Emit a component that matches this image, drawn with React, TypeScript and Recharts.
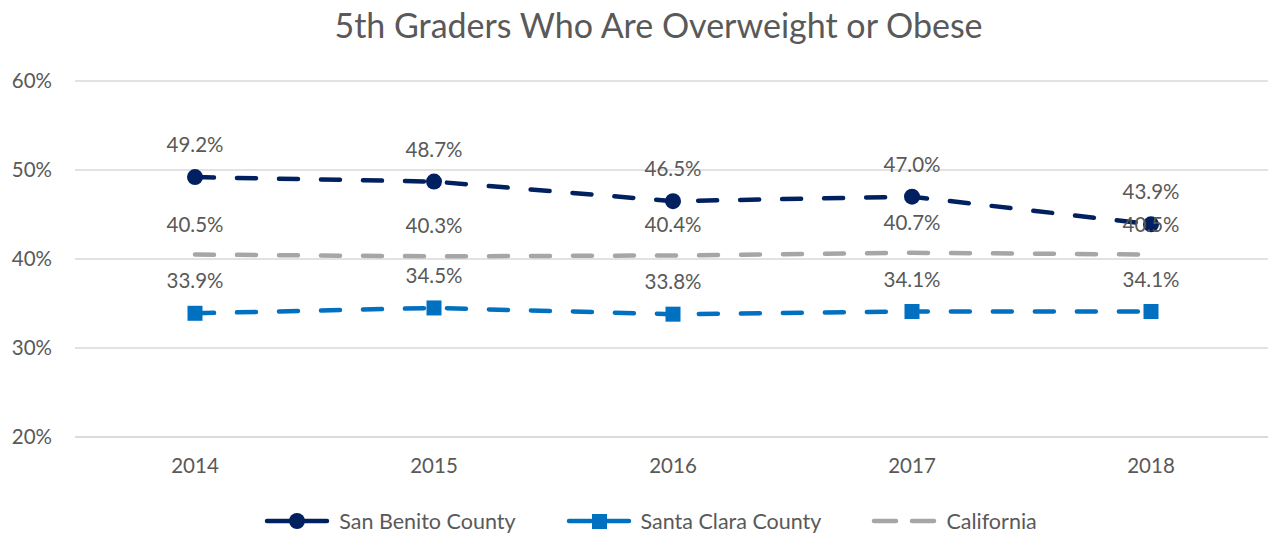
import React from "react";
import { LineChart, Line, XAxis, YAxis, CartesianGrid, LabelList, Legend } from "recharts";

const years = ["2014", "2015", "2016", "2017", "2018"];
const sanBenito = [49.2, 48.7, 46.5, 47.0, 43.9];
const santaClara = [33.9, 34.5, 33.8, 34.1, 34.1];
const california = [40.5, 40.3, 40.4, 40.7, 40.5];
const yTicks = [20, 30, 40, 50, 60];
const title = "5th Graders Who Are Overweight or Obese";

const seriesNames = ["San Benito County", "Santa Clara County", "California"];

const data = years.map((y, i) => ({
  year: y,
  sanBenito: sanBenito[i],
  santaClara: santaClara[i],
  california: california[i],
}));

const FONT = "Lato, 'Open Sans', sans-serif";
const TEXT = "#595959";
const NAVY = "#002060";
const BLUE = "#0070C0";
const GRAY = "#A6A6A6";
const DASH = "19 23";
const FS = 20.5;

const fmt = (v: number) => `${v.toFixed(1)}%`;

const legendItems = [
  { name: seriesNames[0], color: NAVY, marker: "circle" },
  { name: seriesNames[1], color: BLUE, marker: "square" },
  { name: seriesNames[2], color: GRAY, marker: "none" },
];

const renderLegend = () => (
  <div
    style={{
      display: "flex",
      justifyContent: "center",
      alignItems: "center",
      fontFamily: FONT,
      fontSize: 21.5,
      color: TEXT,
      height: 26,
    }}
  >
    {legendItems.map((it, i) => (
      <div key={i} style={{ display: "flex", alignItems: "center", marginLeft: i === 0 ? 0 : 50 }}>
        <svg width={66} height={20} style={{ marginRight: 9 }}>
          <line x1={3} x2={63} y1={10} y2={10} stroke={it.color} strokeWidth={4.5} strokeLinecap="round" strokeDasharray="22 16" />
          {it.marker === "circle" && <circle cx={33} cy={10} r={8} fill={it.color} />}
          {it.marker === "square" && <rect x={26} y={3} width={15} height={15} fill={it.color} />}
        </svg>
        <span>{it.name}</span>
      </div>
    ))}
  </div>
);

const SquareDot = (props: any) => {
  const { cx, cy } = props;
  if (cx == null || cy == null) return null;
  return <rect x={cx - 7.5} y={cy - 7.5} width={15} height={15} fill={BLUE} />;
};

export default function App() {
  return (
    <div style={{ position: "absolute", left: 0, top: 0, width: 1269, height: 533, background: "#fff" }}>
      <div
        style={{
          position: "absolute",
          left: 24,
          top: 4,
          width: 1269,
          textAlign: "center",
          fontFamily: FONT,
          fontSize: 34,
          color: TEXT,
        }}
      >
        {title}
      </div>
      <LineChart
        width={1269}
        height={533}
        data={data}
        margin={{ top: 81, right: 1, left: 0, bottom: 40 }}
      >
        <CartesianGrid vertical={false} stroke="#D9D9D9" strokeWidth={1.5} />
        <XAxis
          dataKey="year"
          axisLine={{ stroke: "#D9D9D9", strokeWidth: 1.5 }}
          tickLine={false}
          tickSize={0}
          tickMargin={21}
          padding={{ left: 120, right: 117 }}
          tick={{ fill: TEXT, fontSize: FS, fontFamily: FONT }}
          height={30}
        />
        <YAxis
          domain={[20, 60]}
          ticks={yTicks}
          axisLine={false}
          tickLine={false}
          tickSize={0}
          tickMargin={23}
          width={75}
          tickFormatter={(v: number) => `${v}%`}
          tick={{ fill: TEXT, fontSize: FS, fontFamily: FONT }}
        />
        <Legend verticalAlign="bottom" content={renderLegend} wrapperStyle={{ top: 508, bottom: "auto", left: 16, width: 1269, height: 26 }} />
        <Line
          dataKey="sanBenito"
          name={seriesNames[0]}
          stroke={NAVY}
          strokeWidth={4.5}
          strokeDasharray={DASH}
          strokeLinecap="round"
          dot={{ r: 8, fill: NAVY, stroke: NAVY, strokeWidth: 0, strokeDasharray: "" }}
          isAnimationActive={false}
        >
          <LabelList dataKey="sanBenito" position="top" offset={25} formatter={fmt as any} style={{ fill: TEXT, fontSize: FS, fontFamily: FONT }} />
        </Line>
        <Line
          dataKey="santaClara"
          name={seriesNames[1]}
          stroke={BLUE}
          strokeWidth={4.5}
          strokeDasharray={DASH}
          strokeLinecap="round"
          dot={<SquareDot />}
          isAnimationActive={false}
        >
          <LabelList dataKey="santaClara" position="top" offset={25} formatter={fmt as any} style={{ fill: TEXT, fontSize: FS, fontFamily: FONT }} />
        </Line>
        <Line
          dataKey="california"
          name={seriesNames[2]}
          stroke={GRAY}
          strokeWidth={4.5}
          strokeDasharray={DASH}
          strokeLinecap="round"
          dot={false}
          isAnimationActive={false}
        >
          <LabelList dataKey="california" position="top" offset={23} formatter={fmt as any} style={{ fill: TEXT, fontSize: FS, fontFamily: FONT }} />
        </Line>
      </LineChart>
    </div>
  );
}
